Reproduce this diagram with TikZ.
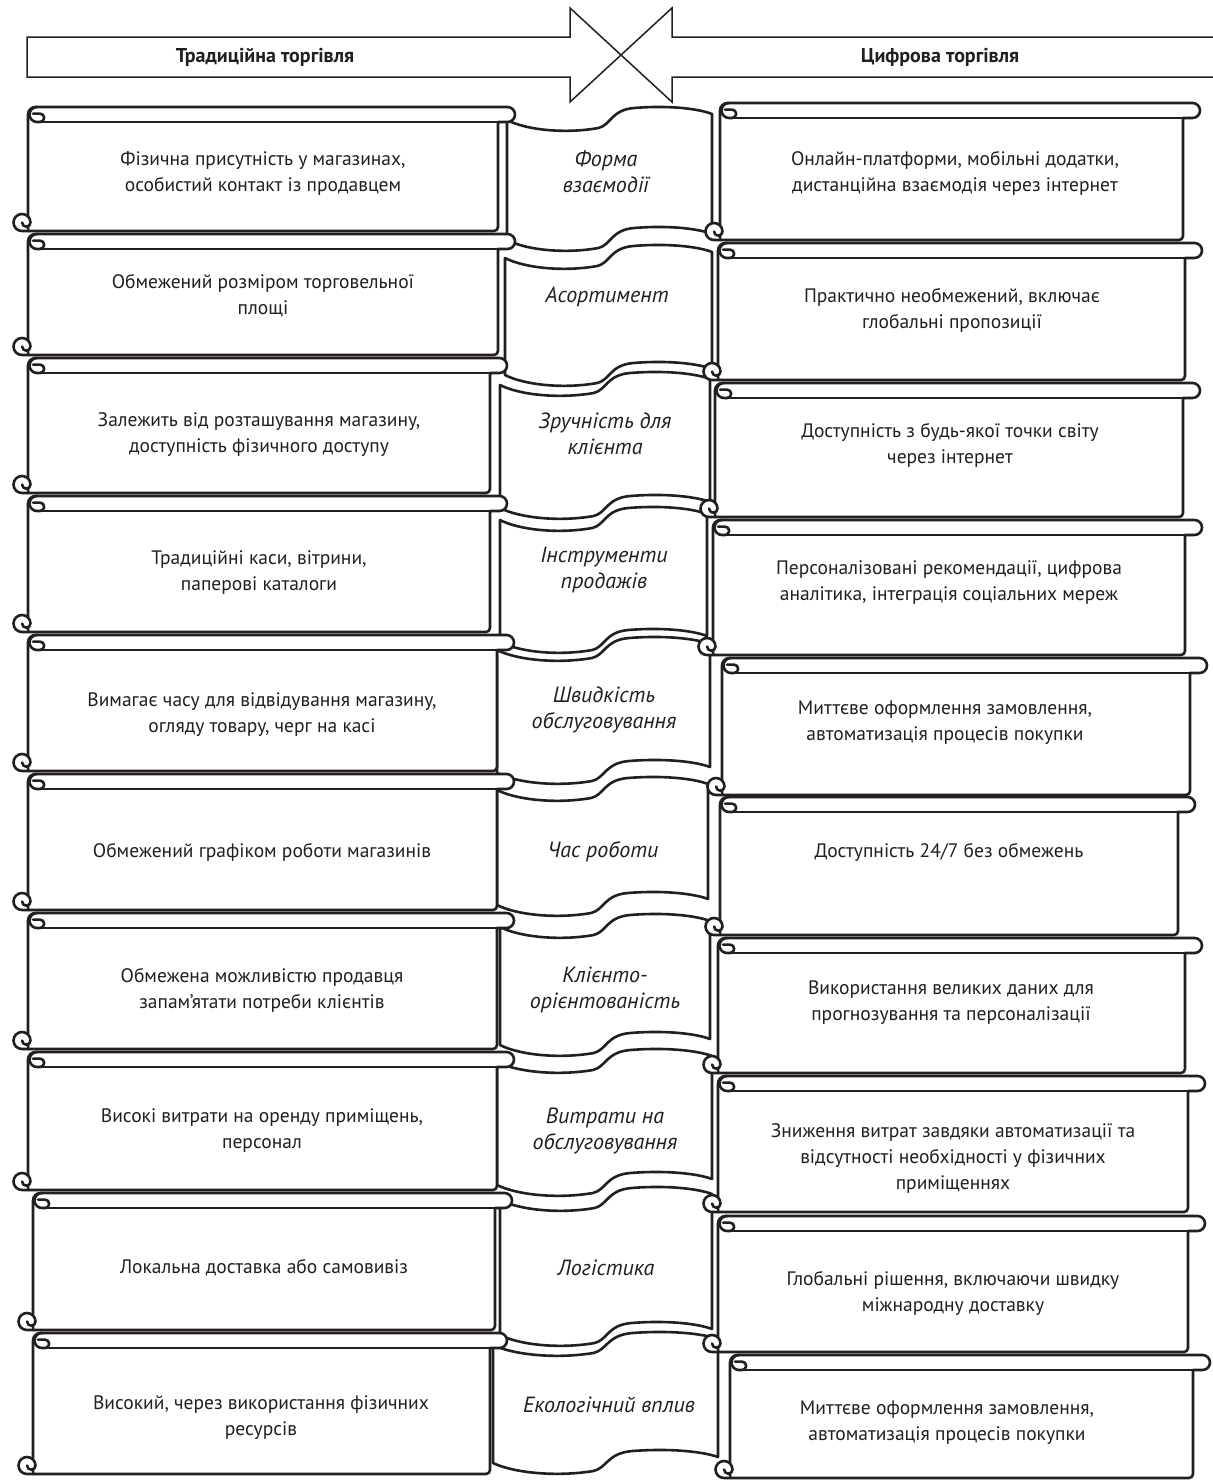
\documentclass[tikz,border=0pt]{standalone}
\usepackage{fontspec}
\setmainfont{PT Sans}
\definecolor{ink}{HTML}{231F20}
\tikzset{
  ln/.style={line width=2.6pt, draw=ink, line join=round, line cap=round},
  hln/.style={line width=1.5pt, draw=ink, line join=miter},
  bodytxt/.style={font=\fontsize{19.5}{26}\selectfont, text=ink, align=center, inner sep=0pt},
  lbltxt/.style={font=\fontsize{22}{26}\selectfont\itshape, text=ink, align=center, inner sep=0pt},
  hdrtxt/.style={font=\fontsize{20}{22}\selectfont\bfseries, text=ink, inner sep=0pt},
}
\newcommand\scrollbox[4]{%
  \pgfmathsetmacro\sW{#2-#1}\pgfmathsetmacro\sH{#4-#3}%
  \begin{scope}[shift={(#1,#3)}]
    \filldraw[ln, fill=white] (0,\sH) -- (0,7.5) arc[start angle=180,end angle=270,radius=7.5]
      -- ({\sW+9.5},0) arc[start angle=270,end angle=450,radius=7.5]
      -- (\sW,15) -- (\sW,{\sH-4}) arc[start angle=0,end angle=90,radius=4] -- cycle;
    \draw[ln] (7.5,15) -- ({\sW+9.5},15);
    \draw[ln] (9,0) arc[start angle=270,end angle=90,radius=7.5]
      -- (12,15) arc[start angle=90,end angle=-90,radius=4.2] -- (5,6.6);
    \filldraw[ln, fill=white] (0,\sH) -- (-6,\sH) arc[start angle=90,end angle=360,radius=8.5]
      arc[start angle=0,end angle=180,radius=4.2];
  \end{scope}}
\newcommand\banner[4]{%
  \pgfmathsetmacro\bS{(#2-#1)/213}\pgfmathsetmacro\bH{#4-#3}%
  \begin{scope}[shift={(#1,#3)}, xscale=\bS]
    \filldraw[ln, fill=white] (0,0) .. controls (20,10) and (60,14) .. (95,8)
      .. controls (108,5) and (108,-10) .. (132,-12)
      .. controls (170,-15) and (200,-11) .. (213,-6)
      -- (213,{\bH-6}) .. controls (200,{\bH-11}) and (170,{\bH-15}) .. (132,{\bH-12})
      .. controls (108,{\bH-10}) and (108,{\bH+5}) .. (95,{\bH+8})
      .. controls (60,{\bH+14}) and (20,{\bH+10}) .. (0,\bH) -- cycle;
  \end{scope}}
\begin{document}
\begin{tikzpicture}[x=1pt,y=-1pt]
\useasboundingbox (0,0) rectangle (1213,1481);
\fill[white] (0,0) rectangle (1213,1481);

% header arrows
\filldraw[hln, fill=white] (27,37) -- (570,37) -- (570,8) -- (621,55) -- (570,102) -- (570,77) -- (27,77) -- cycle;
\filldraw[hln, fill=white] (1216,37) -- (672,37) -- (672,8) -- (621,55) -- (672,102) -- (672,77) -- (1216,77);
\node[hdrtxt] (hl) at (265,57) {Традиційна торгівля};
\node[hdrtxt] (hr) at (940,57) {Цифрова торгівля};

% middle banners
\banner{507}{712}{120}{240}
\banner{505}{712}{258}{375}
\banner{500}{710}{385}{508}
\banner{500}{707}{520}{642}
\banner{497}{710}{650}{773}
\banner{497}{708}{790}{905}
\banner{500}{710}{927}{1045}
\banner{497}{712}{1062}{1185}
\banner{500}{712}{1200}{1335}
\banner{493}{718}{1345}{1463}

% left scrolls
\scrollbox{28}{498}{107}{231}
\scrollbox{28}{498}{234}{355}
\scrollbox{28}{490}{358}{493}
\scrollbox{28}{490}{496}{632}
\scrollbox{28}{497}{635}{771}
\scrollbox{28}{497}{774}{910}
\scrollbox{28}{497}{913}{1049}
\scrollbox{28}{497}{1052}{1190}
\scrollbox{33}{495}{1193}{1330}
\scrollbox{33}{490}{1333}{1474}

% right scrolls
\scrollbox{720}{1183}{103}{240}
\scrollbox{718}{1185}{243}{380}
\scrollbox{715}{1183}{383}{517}
\scrollbox{713}{1185}{520}{655}
\scrollbox{722}{1190}{658}{795}
\scrollbox{720}{1178}{797}{935}
\scrollbox{718}{1185}{938}{1073}
\scrollbox{718}{1188}{1076}{1212}
\scrollbox{718}{1188}{1216}{1352}
\scrollbox{730}{1193}{1355}{1478}

% left texts
\node[bodytxt] (l1) at (263,173) {Фізична присутність у магазинах,\\особистий контакт із продавцем};
\node[bodytxt] (l2) at (263,296) {Обмежений розміром торговельної\\площі};
\node[bodytxt] (l3) at (259,435) {Залежить від розташування магазину,\\доступність фізичного доступу};
\node[bodytxt] (l4) at (259,573) {Традиційні каси, вітрини,\\паперові каталоги};
\node[bodytxt] (l5) at (262,715) {Вимагає часу для відвідування магазину,\\огляду товару, черг на касі};
\node[bodytxt] (l6) at (262,852) {Обмежений графіком роботи магазинів};
\node[bodytxt] (l7) at (262,990) {Обмежена можливістю продавця\\запам'ятати потреби клієнтів};
\node[bodytxt] (l8) at (262,1131) {Високі витрати на оренду приміщень,\\персонал};
\node[bodytxt] (l9) at (264,1268) {Локальна доставка або самовивіз};
\node[bodytxt] (l10) at (261,1418) {Високий, через використання фізичних\\ресурсів};

% middle labels
\node[lbltxt] (m1) at (606,172) {Форма\\взаємодії};
\node[lbltxt] (m2) at (607,297) {Асортимент};
\node[lbltxt] (m3) at (605,434) {Зручність для\\клієнта};
\node[lbltxt] (m4) at (604,570) {Інструменти\\продажів};
\node[lbltxt] (m5) at (604,710) {Швидкість\\обслуговування};
\node[lbltxt] (m6) at (603,852) {Час роботи};
\node[lbltxt] (m7) at (605,990) {Клієнто-\\орієнтованість};
\node[lbltxt] (m8) at (605,1131) {Витрати на\\обслуговування};
\node[lbltxt] (m9) at (606,1268) {Логістика};
\node[lbltxt] (m10) at (609,1405) {Екологічний вплив};

% right texts
\node[bodytxt] (r1) at (955,173) {Онлайн-платформи, мобільні додатки,\\дистанційна взаємодія через інтернет};
\node[bodytxt] (r2) at (952,310) {Практично необмежений, включає\\глобальні пропозиції};
\node[bodytxt] (r3) at (950,445) {Доступність з будь-якої точки світу\\через інтернет};
\node[bodytxt] (r4) at (949,583) {Персоналізовані рекомендації, цифрова\\аналітика, інтеграція соціальних мереж};
\node[bodytxt] (r5) at (945,723) {Миттєве оформлення замовлення,\\автоматизація процесів покупки};
\node[bodytxt] (r6) at (949,852) {Доступність 24/7 без обмежень};
\node[bodytxt] (r7) at (951,1003) {Використання великих даних для\\прогнозування та персоналізації};
\node[bodytxt] (r8) at (953,1158) {Зниження витрат завдяки автоматизації та\\відсутності необхідності у фізичних\\приміщеннях};
\node[bodytxt] (r9) at (953,1293) {Глобальні рішення, включаючи швидку\\міжнародну доставку};
\node[bodytxt] (r10) at (947,1423) {Миттєве оформлення замовлення,\\автоматизація процесів покупки};
\end{tikzpicture}
\end{document}
